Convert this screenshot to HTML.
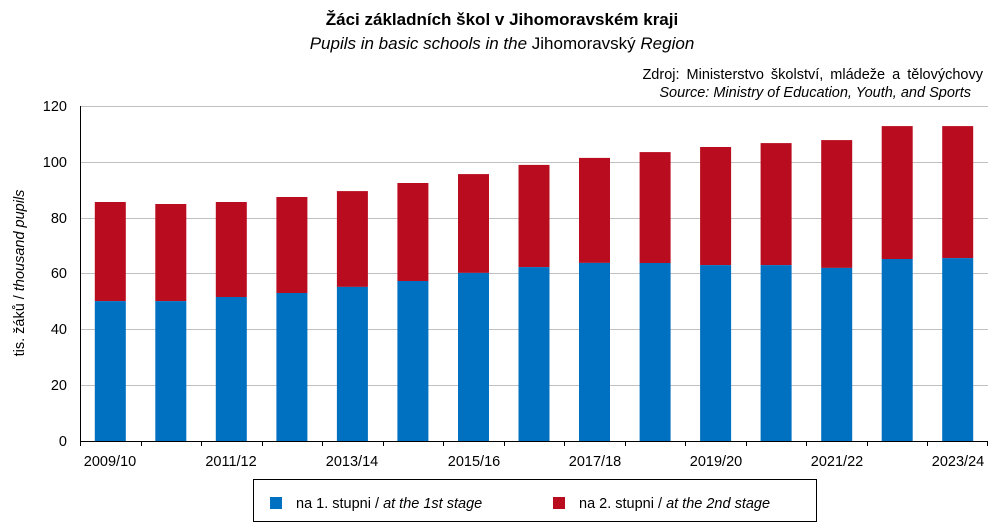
<!DOCTYPE html>
<html><head><meta charset="utf-8"><style>
body{margin:0;background:#fff;}
svg{display:block;font-family:"Liberation Sans",Arial,sans-serif;}
</style></head><body>
<svg width="1004" height="531" viewBox="0 0 1004 531" xmlns="http://www.w3.org/2000/svg">
<text x="502" y="25" text-anchor="middle" font-size="17" font-weight="bold">Žáci základních škol v Jihomoravském kraji</text>
<text x="502" y="49" text-anchor="middle" font-size="17"><tspan font-style="italic">Pupils in basic schools in the </tspan>Jihomoravský <tspan font-style="italic">Region</tspan></text>
<text x="983" y="79" text-anchor="end" font-size="14.5" word-spacing="3">Zdroj: Ministerstvo školství, mládeže a tělovýchovy</text>
<text x="971" y="97" text-anchor="end" font-size="14.5" font-style="italic">Source: Ministry of Education, Youth, and Sports</text>
<g stroke="#c0c0c0" stroke-width="1">
<line x1="80" x2="988" y1="106.5" y2="106.5"/>
<line x1="80" x2="988" y1="162.5" y2="162.5"/>
<line x1="80" x2="988" y1="218.5" y2="218.5"/>
<line x1="80" x2="988" y1="273.5" y2="273.5"/>
<line x1="80" x2="988" y1="329.5" y2="329.5"/>
<line x1="80" x2="988" y1="385.5" y2="385.5"/>
</g>
<g font-size="14.5" text-anchor="end">
<text x="67" y="111">120</text><text x="67" y="167">100</text><text x="67" y="223">80</text>
<text x="67" y="278">60</text><text x="67" y="334">40</text><text x="67" y="390">20</text><text x="67" y="446">0</text>
</g>
<text transform="translate(24,273) rotate(-90)" text-anchor="middle" font-size="14.5">tis. žáků / <tspan font-style="italic">thousand pupils</tspan></text>
<g fill="#BA0C1F">
<rect x="94.8" y="202.0" width="31" height="99.1"/>
<rect x="155.3" y="204.0" width="31" height="97.1"/>
<rect x="215.8" y="202.0" width="31" height="95"/>
<rect x="276.4" y="197.0" width="31" height="96"/>
<rect x="336.9" y="191.1" width="31" height="95.8"/>
<rect x="397.4" y="183.0" width="31" height="98"/>
<rect x="458.0" y="174.1" width="31" height="98.8"/>
<rect x="518.5" y="164.9" width="31" height="102.2"/>
<rect x="579.0" y="157.9" width="31" height="105"/>
<rect x="639.6" y="152.1" width="31" height="110.9"/>
<rect x="700.1" y="147.0" width="31" height="118.1"/>
<rect x="760.6" y="143.1" width="31" height="122"/>
<rect x="821.2" y="140.1" width="31" height="127.8"/>
<rect x="881.7" y="126.1" width="31" height="132.9"/>
<rect x="942.2" y="126.1" width="31" height="132"/>
</g>
<g fill="#0070C0">
<rect x="94.8" y="301.1" width="31" height="139.9"/>
<rect x="155.3" y="301.1" width="31" height="139.9"/>
<rect x="215.8" y="297.0" width="31" height="144"/>
<rect x="276.4" y="293.0" width="31" height="148"/>
<rect x="336.9" y="286.9" width="31" height="154.1"/>
<rect x="397.4" y="281.0" width="31" height="160"/>
<rect x="458.0" y="272.9" width="31" height="168.1"/>
<rect x="518.5" y="267.1" width="31" height="173.9"/>
<rect x="579.0" y="262.9" width="31" height="178.1"/>
<rect x="639.6" y="263.0" width="31" height="178"/>
<rect x="700.1" y="265.1" width="31" height="175.9"/>
<rect x="760.6" y="265.1" width="31" height="175.9"/>
<rect x="821.2" y="267.9" width="31" height="173.1"/>
<rect x="881.7" y="259.0" width="31" height="182"/>
<rect x="942.2" y="258.1" width="31" height="182.9"/>
</g>
<line x1="80" x2="988" y1="441.5" y2="441.5" stroke="#000"/>
<line x1="80.5" x2="80.5" y1="106" y2="441" stroke="#000"/>
<g stroke="#000">
<line x1="80.5" x2="80.5" y1="441" y2="446"/><line x1="141.5" x2="141.5" y1="441" y2="446"/>
<line x1="201.5" x2="201.5" y1="441" y2="446"/><line x1="262.5" x2="262.5" y1="441" y2="446"/>
<line x1="322.5" x2="322.5" y1="441" y2="446"/><line x1="383.5" x2="383.5" y1="441" y2="446"/>
<line x1="443.5" x2="443.5" y1="441" y2="446"/><line x1="504.5" x2="504.5" y1="441" y2="446"/>
<line x1="564.5" x2="564.5" y1="441" y2="446"/><line x1="625.5" x2="625.5" y1="441" y2="446"/>
<line x1="685.5" x2="685.5" y1="441" y2="446"/><line x1="746.5" x2="746.5" y1="441" y2="446"/>
<line x1="806.5" x2="806.5" y1="441" y2="446"/><line x1="867.5" x2="867.5" y1="441" y2="446"/>
<line x1="927.5" x2="927.5" y1="441" y2="446"/><line x1="987.5" x2="987.5" y1="441" y2="446"/>
</g>
<g font-size="14.5" text-anchor="middle">
<text x="110" y="466">2009/10</text><text x="231" y="466">2011/12</text><text x="352" y="466">2013/14</text>
<text x="474" y="466">2015/16</text><text x="595" y="466">2017/18</text><text x="716" y="466">2019/20</text>
<text x="837" y="466">2021/22</text><text x="958" y="466">2023/24</text>
</g>
<rect x="253.5" y="479.5" width="563" height="42" fill="none" stroke="#000"/>
<rect x="270" y="497" width="12" height="12" fill="#0070C0"/>
<text x="296" y="508" font-size="14.5">na 1. stupni  /  <tspan font-style="italic">at the 1st stage</tspan></text>
<rect x="553" y="497" width="12" height="12" fill="#BA0C1F"/>
<text x="579" y="508" font-size="14.5">na 2. stupni  /  <tspan font-style="italic">at the 2nd stage</tspan></text>
</svg>
</body></html>
